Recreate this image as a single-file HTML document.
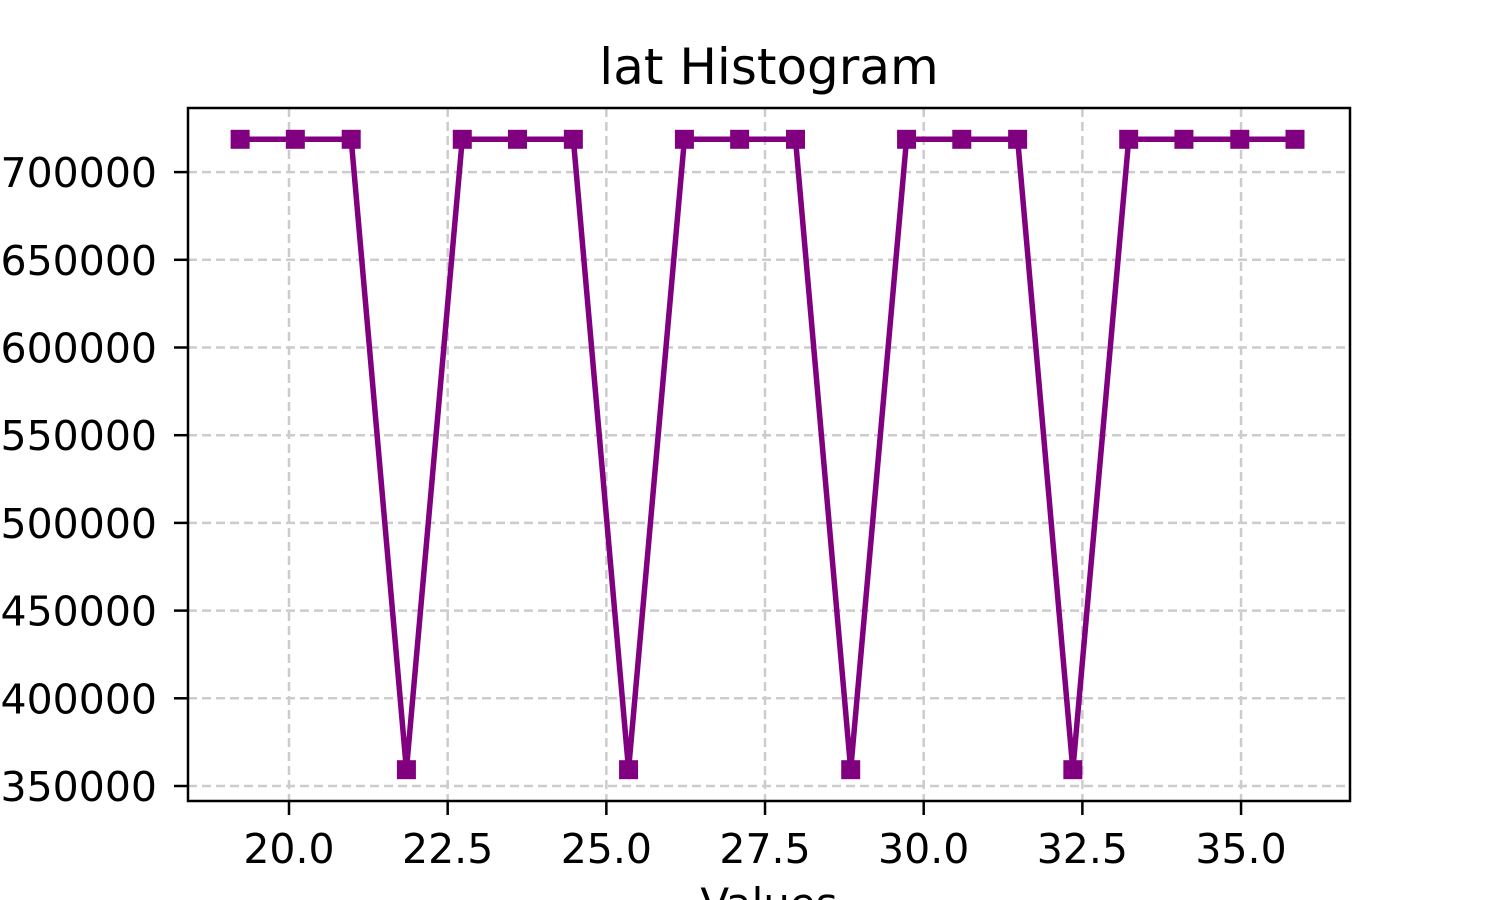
<!DOCTYPE html>
<html><head><meta charset="utf-8"><style>
html,body{margin:0;padding:0;background:#fff;width:1500px;height:900px;overflow:hidden}
svg{display:block;font-family:"DejaVu Sans","Liberation Sans",sans-serif}
</style></head><body>
<svg id="chart" width="1500" height="900">
<rect x="0" y="0" width="1500" height="900" fill="#fff"/>
<text x="769" y="84" font-size="50" text-anchor="middle">lat Histogram</text>
<g id="grid"></g>
<g id="ticks"></g>
<g id="series"></g>
<rect x="188" y="108" width="1162" height="693" fill="none" stroke="#000" stroke-width="2.5"/>
<text x="769" y="918" font-size="42" text-anchor="middle">Values</text>
</svg>
<script>
const xValues=[19.23,20.1,20.98,21.85,22.73,23.6,24.48,25.35,26.23,27.1,27.98,28.85,29.73,30.6,31.48,32.35,33.23,34.1,34.98,35.85];
const counts=[718700,718700,718700,359300,718700,718700,718700,359300,718700,718700,718700,359300,718700,718700,718700,359300,718700,718700,718700,718700];
const xTicks=[20,22.5,25,27.5,30,32.5,35];
const xTickLabels=["20.0","22.5","25.0","27.5","30.0","32.5","35.0"];
const yTicks=[350000,400000,450000,500000,550000,600000,650000,700000];
const yTickLabels=["350000","400000","450000","500000","550000","600000","650000","700000"];
const NS="http://www.w3.org/2000/svg";
function sx(v){return 289+(v-20)*63.47;}
function sy(v){return 786-(v-350000)/50000*87.7;}
function mk(tag,attrs,parent){const e=document.createElementNS(NS,tag);for(const k in attrs)e.setAttribute(k,attrs[k]);parent.appendChild(e);return e;}
const grid=document.getElementById('grid'),ticks=document.getElementById('ticks'),series=document.getElementById('series');
xTicks.forEach((t,i)=>{const x=sx(t);
 const g=mk('line',{x1:x,x2:x,y1:108,y2:801,stroke:'#ccc','stroke-width':2.5,'stroke-dasharray':'9,5'},grid);
 
 
 const tk=mk('line',{x1:x,x2:x,y1:801,y2:815,stroke:'#000','stroke-width':2.5},ticks);
 
 
 const tx=mk('text',{x:x,y:863,'font-size':41,'text-anchor':'middle'},ticks);tx.textContent=xTickLabels[i];
 
 
});
yTicks.forEach((t,i)=>{const y=sy(t);
 const g=mk('line',{x1:188,x2:1350,y1:y,y2:y,stroke:'#ccc','stroke-width':2.5,'stroke-dasharray':'9,5'},grid);
 
 
 const tk=mk('line',{x1:174,x2:188,y1:y,y2:y,stroke:'#000','stroke-width':2.5},ticks);
 
 
 const tx=mk('text',{x:157,y:y+15,'font-size':41,'text-anchor':'end'},ticks);tx.textContent=yTickLabels[i];
 
 
});
const pts=xValues.map((v,i)=>sx(v)+','+sy(counts[i])).join(' ');
const pl=mk('polyline',{points:pts,fill:'none',stroke:'#800080','stroke-width':5.5,'stroke-linejoin':'round'},series);


xValues.forEach((v,i)=>{
 const r=mk('rect',{x:sx(v)-9.5,y:sy(counts[i])-9.5,width:19,height:19,fill:'#800080'},series);
 
 
});
</script>
</body></html>
